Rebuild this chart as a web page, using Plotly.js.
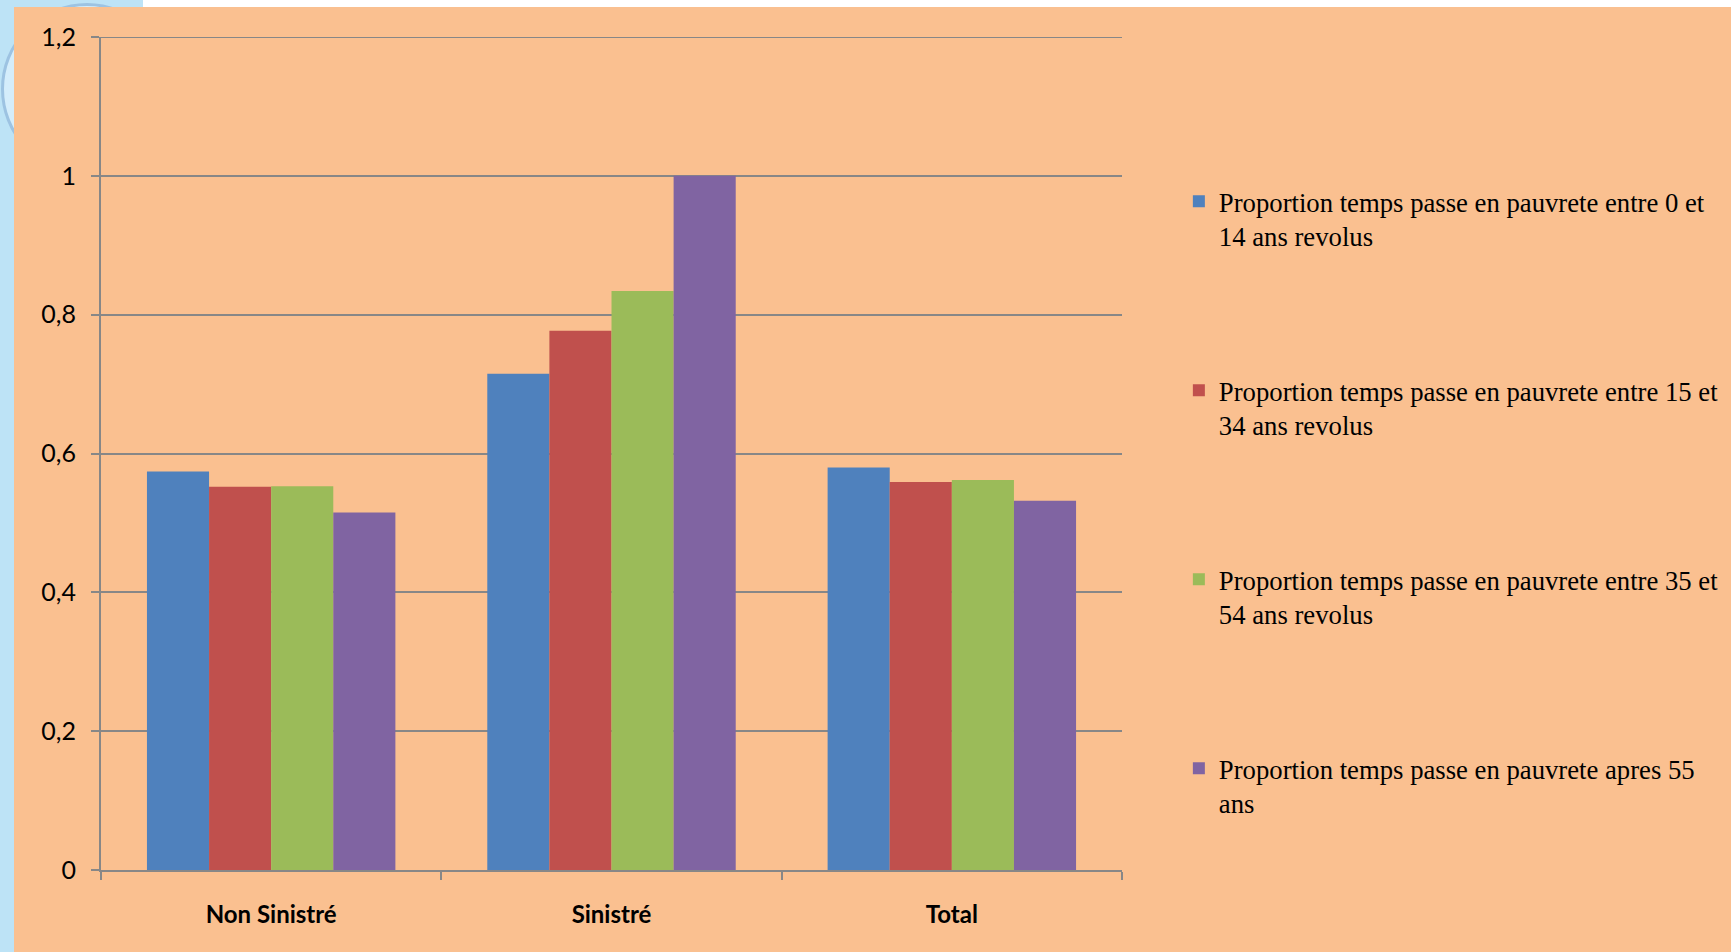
<!DOCTYPE html>
<html>
<head>
<meta charset="utf-8">
<script src="https://cdn.plot.ly/plotly-3.0.1.min.js"></script>
<style>
  html, body { margin: 0; padding: 0; width: 1731px; height: 952px; overflow: hidden; background: #bde3f6; }
  #ring { position: absolute; left: 1px; top: 3px; width: 172px; height: 172px; box-sizing: border-box; border-radius: 50%; border: 3px solid #9dc3e2; background: #d4edfb; }
  #topband { position: absolute; left: 143px; top: 0; width: 1588px; height: 7px; background: #ffffff; }
  #chart { position: absolute; left: 14px; top: 7px; width: 1717px; height: 945px; }
</style>
</head>
<body>
<div id="ring"></div>
<div id="topband"></div>
<div id="chart"></div>
<script>
// Categories on the x axis
const categories = ['Non Sinistré', 'Sinistré', 'Total'];

// Series names (legend entries)
const seriesNames = [
  'Proportion temps passe en pauvrete entre 0 et<br>14 ans revolus',
  'Proportion temps passe en pauvrete entre 15 et<br>34 ans revolus',
  'Proportion temps passe en pauvrete entre 35 et<br>54 ans revolus',
  'Proportion temps passe en pauvrete apres 55<br>ans'
];

// Values per series, one per category
const age0to14 = [0.574, 0.715, 0.580];
const age15to34 = [0.552, 0.777, 0.559];
const age35to54 = [0.553, 0.834, 0.562];
const age55plus = [0.515, 1.000, 0.532];

// Y axis ticks
const yTickVals = [0, 0.2, 0.4, 0.6, 0.8, 1, 1.2];
const yTickText = ['0', '0,2', '0,4', '0,6', '0,8', '1', '1,2'];

const seriesValues = [age0to14, age15to34, age35to54, age55plus];
const colors = ['#4F81BD', '#C0504D', '#9BBB59', '#8064A2'];
const legendIds = ['legend', 'legend2', 'legend3', 'legend4'];

const traces = seriesValues.map((vals, i) => ({
  type: 'bar',
  x: categories,
  y: vals,
  name: seriesNames[i],
  legend: legendIds[i],
  marker: { color: colors[i], line: { width: 0 } },
  hoverinfo: 'skip'
}));

// One legend box per series, stacked down the right-hand side
const legendFont = { family: '"Liberation Serif", "Times New Roman", serif', size: 26.7, color: '#000000' };
const legendX = 1.0557;
const legendTops = [0.8315, 0.6046, 0.3777, 0.1508];
function legendCfg(k) {
  return {
    x: legendX, y: legendTops[k], xanchor: 'left', yanchor: 'top',
    bgcolor: 'rgba(0,0,0,0)', borderwidth: 0,
    font: legendFont, valign: 'top', itemwidth: 30,
    itemclick: false, itemdoubleclick: false
  };
}

const axisGray = '#878787';
const tickFamily = 'Lato, "Open Sans", sans-serif';

const layout = {
  width: 1717,
  height: 945,
  paper_bgcolor: '#FAC090',
  plot_bgcolor: '#FAC090',
  margin: { l: 87, r: 609, t: 30, b: 82, autoexpand: false },
  barmode: 'group',
  bargap: 0.27,
  bargroupgap: 0,
  showlegend: true,
  legend: legendCfg(0),
  legend2: legendCfg(1),
  legend3: legendCfg(2),
  legend4: legendCfg(3),
  xaxis: {
    type: 'category',
    showline: true, linecolor: axisGray, linewidth: 2,
    ticks: 'outside', tickson: 'boundaries', ticklen: 8, tickwidth: 2, tickcolor: axisGray,
    tickfont: { family: tickFamily, size: 24, color: '#000000', weight: 'bold' },
    ticklabelstandoff: 22,
    showgrid: false, zeroline: false, fixedrange: true
  },
  yaxis: {
    range: [0, 1.2],
    tickvals: yTickVals, ticktext: yTickText,
    showline: true, linecolor: axisGray, linewidth: 2,
    ticks: 'outside', ticklen: 8, tickwidth: 2, tickcolor: axisGray,
    tickfont: { family: tickFamily, size: 25, color: '#000000' },
    ticklabelstandoff: 10,
    showgrid: true, gridcolor: axisGray, gridwidth: 2,
    zeroline: false, fixedrange: true
  },
  shapes: [
    // gridline along the 1,2 edge of the plot
    { type: 'line', xref: 'paper', yref: 'y', x0: 0, x1: 1, y0: 1.2, y1: 1.2,
      line: { color: axisGray, width: 2 }, layer: 'below' }
  ]
};

Plotly.newPlot('chart', traces, layout, { displayModeBar: false, staticPlot: true });
</script>
</body>
</html>
